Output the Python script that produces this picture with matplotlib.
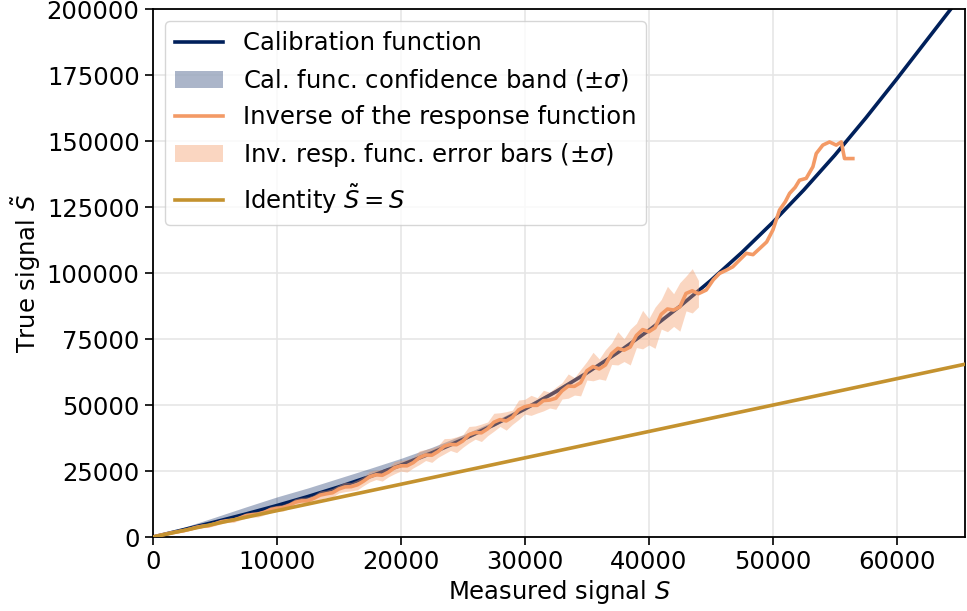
import matplotlib
matplotlib.use("Agg")
import matplotlib.pyplot as plt
import numpy as np

# calibration function (values in units of 1000)
cal_x = [0, 2.5, 5, 7.5, 10, 12.5, 15, 17.5, 20, 22.5, 25, 27.5, 30, 32.5, 35, 37.5,
         40, 42.5, 45, 47.5, 50, 52.5, 55, 57.5, 60, 62.5, 65]
cal_y = [0, 2.81, 5.70, 8.73, 11.93, 15.34, 19.00, 22.95, 27.24, 31.90, 36.97, 42.49,
         48.51, 55.06, 62.19, 69.93, 78.32, 87.41, 97.23, 107.83, 119.25, 131.52,
         144.69, 158.80, 173.6, 188.8, 204.0]
cal_hi = [0, 3.7, 7.5, 11.4, 15.2, 18.6, 22.3, 26.0, 29.8, 34.0, 38.7, 43.9,
          49.7, 56.1, 63.1, 70.8, 79.1, 88.1, 97.9, 108.4, 119.8, 132.0,
          145.1, 159.2, 173.9, 189.1, 204.3]
cal_lo = [0, 2.5, 5.2, 8.1, 11.2, 14.6, 18.3, 22.3, 26.6, 31.3, 36.4, 42.0,
          48.0, 54.6, 61.8, 69.6, 78.0, 87.1, 96.9, 107.5, 118.9, 131.2,
          144.4, 158.5, 173.3, 188.5, 203.7]

# inverse of the response function, with error bars (units of 1000)
inv_x = [0, 0.5, 1, 1.5, 2, 2.5, 3, 3.5, 4, 4.5, 5, 5.5, 6, 6.5, 7, 7.5, 8, 8.5, 9, 9.5,
         10, 10.5, 11, 11.5, 12, 12.5, 13, 13.5, 14, 14.5, 15, 15.5, 16, 16.5, 17, 17.5,
         18, 18.5, 19, 19.5, 20, 20.5, 21, 21.5, 22, 22.5, 23, 23.5, 24, 24.5, 25, 25.5,
         26, 26.5, 27, 27.5, 28, 28.5, 29, 29.5, 30, 30.5, 31, 31.5, 32, 32.5, 33, 33.5,
         34, 34.5, 35, 35.5, 36, 36.5, 37, 37.5, 38, 38.5, 39, 39.5, 40, 40.5, 41, 41.5,
         42, 42.5, 43, 43.5, 44]
inv_y = [0, 0.6, 1.1, 1.6, 2.0, 2.4, 3.0, 3.7, 4.1, 4.3, 5.0, 5.8, 6.2, 6.4, 7.2, 8.1,
         8.5, 8.7, 9.4, 10.4, 10.9, 11.1, 12.0, 13.2, 13.7, 13.7, 14.7, 15.9, 16.4, 16.8,
         18.2, 19.0, 19.1, 19.8, 21.2, 22.9, 23.6, 23.4, 24.6, 26.3, 27.0, 27.0, 28.2, 30.1,
         31.1, 31.0, 32.4, 34.4, 35.1, 35.0, 36.4, 38.8, 39.6, 39.5, 41.0, 43.5, 44.5, 44.0,
         45.4, 48.2, 49.4, 49.9, 49.9, 51.7, 51.9, 52.6, 55.4, 57.2, 57.1, 58.5, 63.0, 64.6,
         63.7, 65.2, 69.5, 71.5, 70.8, 72.0, 76.4, 78.6, 77.8, 79.3, 84.4, 86.4, 86.0, 87.2,
         92.3, 93.3, 92.2]
inv_err = [0, 0.2, 0.3, 0.3, 0.4, 0.4, 0.5, 0.5, 0.6, 0.6, 0.7, 0.8, 0.7, 0.9, 0.8, 1.0,
           0.9, 1.1, 1.0, 1.2, 1.1, 1.3, 1.2, 1.4, 1.3, 1.5, 1.3, 1.6, 1.4, 1.7, 1.5, 1.8,
           1.6, 1.9, 1.7, 2.0, 1.8, 2.2, 1.8, 2.3, 2.0, 2.4, 2.0, 2.6, 2.1, 2.7, 2.2, 2.9,
           2.3, 3.0, 2.4, 3.1, 2.5, 3.3, 2.6, 3.4, 2.6, 3.5, 2.7, 3.7, 2.8, 3.8, 2.9, 3.9,
           3.0, 4.2, 3.1, 4.6, 3.3, 5.0, 3.5, 5.4, 3.8, 5.8, 4.1, 6.3, 4.3, 6.8, 4.6, 7.3,
           5.0, 7.8, 5.6, 8.6, 6.2, 9.2, 6.6, 8.4, 5.0]
# tail of the inverse response function (no error bars)
tail_x = [44.63, 45.2, 45.7, 46.2, 46.77, 47.3, 47.86, 48.4, 48.93, 49.5, 50.0, 50.54,
          51.0, 51.35, 51.8, 52.15, 52.69, 53.23, 53.5, 54.03, 54.57, 55.11, 55.52,
          55.78, 56.45]
tail_y = [93.6, 97.5, 99.9, 101.0, 102.4, 104.9, 107.5, 107.0, 109.3, 111.8, 116.3, 123.9,
          127.0, 130.2, 132.5, 135.2, 135.9, 140.3, 145.3, 148.5, 149.7, 148.5, 149.7,
          143.4, 143.4]

id_x = [0, 66]
id_y = [0, 66]

navy = "#00205b"
orange = "#f39a66"
gold = "#c4922f"

k = 1000.0
cal_x = np.array(cal_x) * k
inv_x = np.array(inv_x) * k
inv_y = np.array(inv_y) * k
inv_err = np.array(inv_err) * k
full_x = np.concatenate([inv_x, np.array(tail_x) * k])
full_y = np.concatenate([inv_y, np.array(tail_y) * k])

plt.rcParams["font.size"] = 17.5
fig = plt.figure(figsize=(9.67, 6.11), dpi=100)
ax = fig.add_axes([0.158, 0.121, 0.840, 0.864])

ax.fill_between(cal_x, np.array(cal_lo) * k, np.array(cal_hi) * k, color=navy,
                alpha=0.33, linewidth=0, zorder=1, label=r"Cal. func. confidence band ($\pm\sigma$)")
ax.plot(cal_x, np.array(cal_y) * k, color=navy, lw=2.6, zorder=2, label="Calibration function")
ax.fill_between(inv_x, inv_y - inv_err, inv_y + inv_err, color=orange, alpha=0.4,
                linewidth=0, zorder=3, label=r"Inv. resp. func. error bars ($\pm\sigma$)")
ax.plot(full_x, full_y, color=orange, lw=2.6, zorder=4, label="Inverse of the response function")
ax.plot(np.array(id_x) * k, np.array(id_y) * k, color=gold, lw=2.6, zorder=5,
        label=r"Identity $\tilde{S} = S$")

ax.set_xlim(0, 65500)
ax.set_ylim(0, 200000)
ax.set_xticks([0, 10000, 20000, 30000, 40000, 50000, 60000])
ax.set_yticks([0, 25000, 50000, 75000, 100000, 125000, 150000, 175000, 200000])
ax.grid(True, color="#e6e6e6", lw=1.2)
ax.set_axisbelow(True)
ax.tick_params(length=6, width=1.2)
for s in ax.spines.values():
    s.set_linewidth(1.3)
ax.set_xlabel(r"Measured signal $S$", labelpad=3)
ax.set_ylabel(r"True signal $\tilde{S}$", labelpad=3)

h, l = ax.get_legend_handles_labels()
order = [1, 0, 3, 2, 4]
ax.legend([h[i] for i in order], [l[i] for i in order], loc="upper left",
          fontsize=17.5, framealpha=0.8, borderaxespad=0.5)

fig.savefig("out.png", dpi=100)
